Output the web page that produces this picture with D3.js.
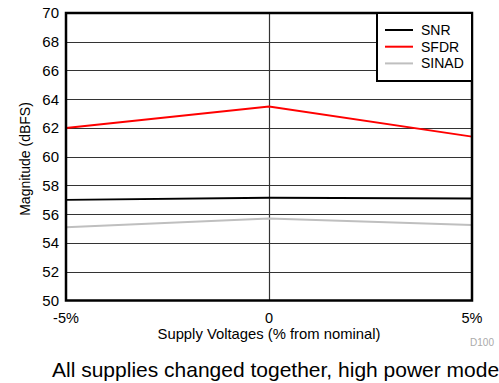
<!DOCTYPE html>
<html>
<head>
<meta charset="utf-8">
<script src="https://cdn.jsdelivr.net/npm/d3@7"></script>
<style>
  body { margin: 0; background: #fff; }
  text { font-family: "Liberation Sans", Arial, sans-serif; }
</style>
</head>
<body>
<svg id="svg" width="499" height="383"></svg>
<script>
// supply voltage deviation (%)
const supply = [-5, 0, 5];
const snr = [57.0, 57.15, 57.1];
const sfdr = [62.0, 63.5, 61.4];
const sinad = [55.1, 55.7, 55.25];
const yTicks = [50, 52, 54, 56, 58, 60, 62, 64, 66, 68, 70];
const xTickLabels = ["-5%", "0", "5%"];

const series = [
  { name: "SNR", values: snr, color: "#000000" },
  { name: "SFDR", values: sfdr, color: "#ff0000" },
  { name: "SINAD", values: sinad, color: "#bfbfbf" }
];

const margin = { left: 66, top: 13, right: 472, bottom: 300.5 };

const svg = d3.select("#svg");

const x = d3.scaleLinear().domain([-5, 5]).range([margin.left, margin.right]);
const y = d3.scaleLinear().domain([50, 70]).range([margin.bottom, margin.top]);

// grid
svg.append("g")
  .selectAll("line")
  .data(yTicks.slice(1, -1))
  .join("line")
  .attr("x1", margin.left).attr("x2", margin.right)
  .attr("y1", d => Math.round(y(d)) + 0.5).attr("y2", d => Math.round(y(d)) + 0.5)
  .attr("stroke", "#333").attr("stroke-width", 1.2);

svg.append("line")
  .attr("x1", Math.round(x(0)) + 0.5).attr("x2", Math.round(x(0)) + 0.5)
  .attr("y1", margin.top).attr("y2", margin.bottom)
  .attr("stroke", "#333").attr("stroke-width", 1.2);

// series lines
const line = d3.line()
  .x((d, i) => x(supply[i]))
  .y(d => y(d));

svg.append("g")
  .selectAll("path")
  .data(series)
  .join("path")
  .attr("d", s => line(s.values))
  .attr("fill", "none")
  .attr("stroke", s => s.color)
  .attr("stroke-width", 2);

// frame
svg.append("rect")
  .attr("x", margin.left).attr("y", margin.top)
  .attr("width", margin.right - margin.left)
  .attr("height", margin.bottom - margin.top)
  .attr("fill", "none").attr("stroke", "#000").attr("stroke-width", 2.5);

// y tick labels
svg.append("g")
  .selectAll("text")
  .data(yTicks)
  .join("text")
  .attr("x", 59)
  .attr("y", d => y(d))
  .attr("dy", "0.36em")
  .attr("text-anchor", "end")
  .attr("font-size", 15)
  .attr("fill", "#000")
  .text(d => d);

// x tick labels
svg.append("g")
  .selectAll("text")
  .data(supply)
  .join("text")
  .attr("x", d => x(d))
  .attr("y", 322.5)
  .attr("text-anchor", "middle")
  .attr("font-size", 14.5)
  .text((d, i) => xTickLabels[i]);

// axis titles
svg.append("text")
  .attr("x", 269).attr("y", 338.5)
  .attr("text-anchor", "middle")
  .attr("font-size", 14.8)
  .text("Supply Voltages (% from nominal)");

svg.append("text")
  .attr("transform", "translate(30,159) rotate(-90)")
  .attr("text-anchor", "middle")
  .attr("font-size", 14)
  .text("Magnitude (dBFS)");

svg.append("text")
  .attr("x", 482).attr("y", 346)
  .attr("text-anchor", "middle")
  .attr("font-size", 10)
  .attr("fill", "#aaa")
  .text("D100");

svg.append("text")
  .attr("x", 52).attr("y", 377)
  .attr("font-size", 21)
  .text("All supplies changed together, high power mode");

// legend
const legend = svg.append("g");
legend.append("rect")
  .attr("x", 377).attr("y", 13)
  .attr("width", 95).attr("height", 68)
  .attr("fill", "#fff").attr("stroke", "#000").attr("stroke-width", 2);

const entries = legend.selectAll("g")
  .data(series)
  .join("g")
  .attr("transform", (d, i) => `translate(0, ${30 + i * 16.7})`);
entries.append("line")
  .attr("x1", 385).attr("x2", 413)
  .attr("stroke", d => d.color).attr("stroke-width", 2);
entries.append("text")
  .attr("x", 421).attr("dy", "0.36em")
  .attr("font-size", 14)
  .text(d => d.name);
</script>
</body>
</html>
